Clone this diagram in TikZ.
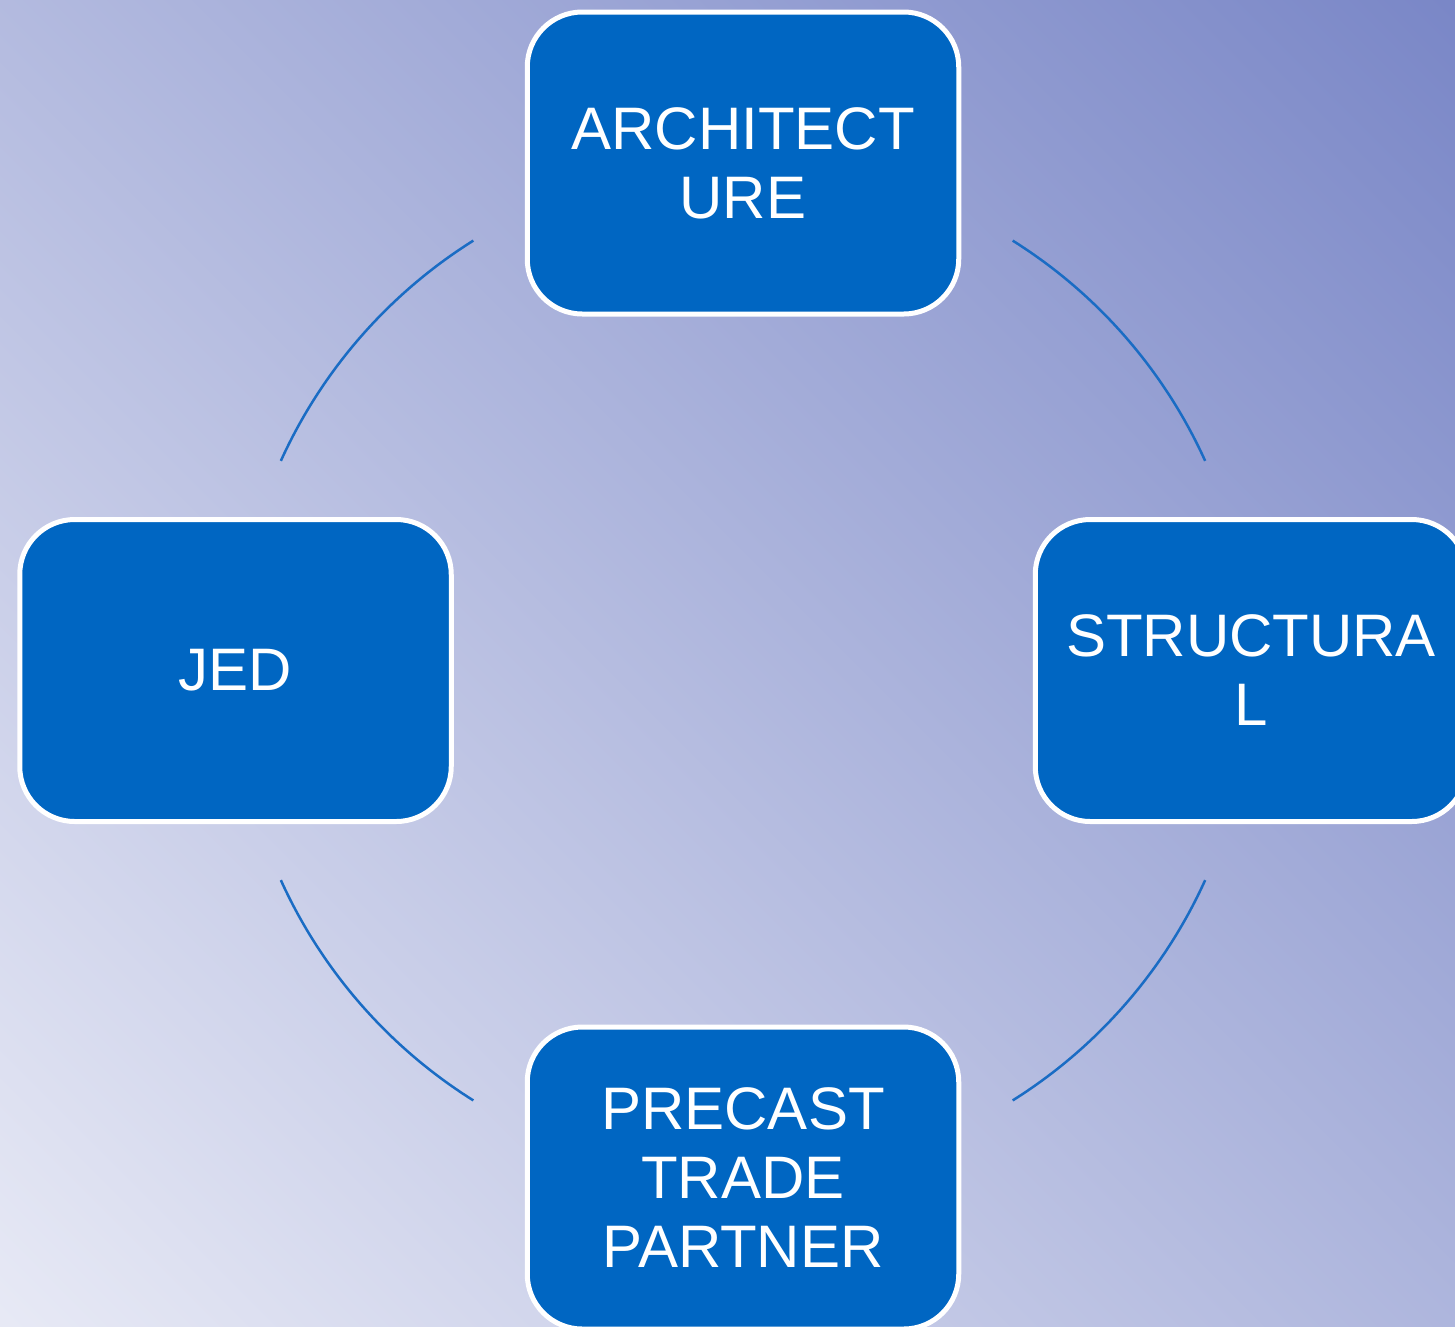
\documentclass[tikz,border=0pt]{standalone}
\usepackage{fontspec}
\setmainfont{Liberation Sans}
\definecolor{bgdark}{HTML}{7A87C7}
\definecolor{bglight}{HTML}{E7E9F5}
\definecolor{boxfill}{HTML}{0066C2}
\definecolor{ringline}{HTML}{1A6CC4}
% diagonal background: full colour range reached exactly at the corners
\pgfdeclareverticalshading{bgdiag}{100bp}{%
  color(0bp)=(bglight); color(14.64bp)=(bglight);
  color(85.36bp)=(bgdark); color(100bp)=(bgdark)}
\tikzset{
  partner/.style={draw=white, line width=5pt, fill=boxfill, rounded corners=55pt,
    minimum width=431.5pt, minimum height=302pt, inner sep=0pt,
    align=center, text=white, font=\fontsize{60}{69}\selectfont},
  ring/.style={draw=ringline, line width=2.5pt}
}
\begin{document}
\begin{tikzpicture}[x=1pt,y=-1pt]
  % canvas and diagonal background gradient
  \useasboundingbox (0,0) rectangle (1455,1326);
  \shade[shading=bgdiag, shading angle=-45] (0,0) rectangle (1455,1326);

  % centre of the ring
  \coordinate (hub) at (743,670.5);

  % the four partners
  \node[partner] (arch)    at (743,163)     {ARCHITECT\\URE};
  \node[partner] (jed)     at (235.5,670.5) {JED};
  \node[partner] (struct)  at (1251,670.5)  {STRUCTURA\\L};
  \node[partner] (precast) at (743,1178)    {PRECAST\\TRADE\\PARTNER};

  % ring segments between neighbouring boxes
  \path (hub) ++(204.4:507.5) coordinate (jedArchA);
  \path (hub) ++(302.1:507.5) coordinate (archStructA);
  \path (hub) ++(24.4:507.5)  coordinate (structPrecA);
  \path (hub) ++(122.1:507.5) coordinate (precJedA);
  \draw[ring] (jedArchA)    arc[start angle=204.4, end angle=237.9, radius=507.5];
  \draw[ring] (archStructA) arc[start angle=302.1, end angle=335.6, radius=507.5];
  \draw[ring] (structPrecA) arc[start angle=24.4,  end angle=57.9,  radius=507.5];
  \draw[ring] (precJedA)    arc[start angle=122.1, end angle=155.6, radius=507.5];
\end{tikzpicture}
\end{document}
